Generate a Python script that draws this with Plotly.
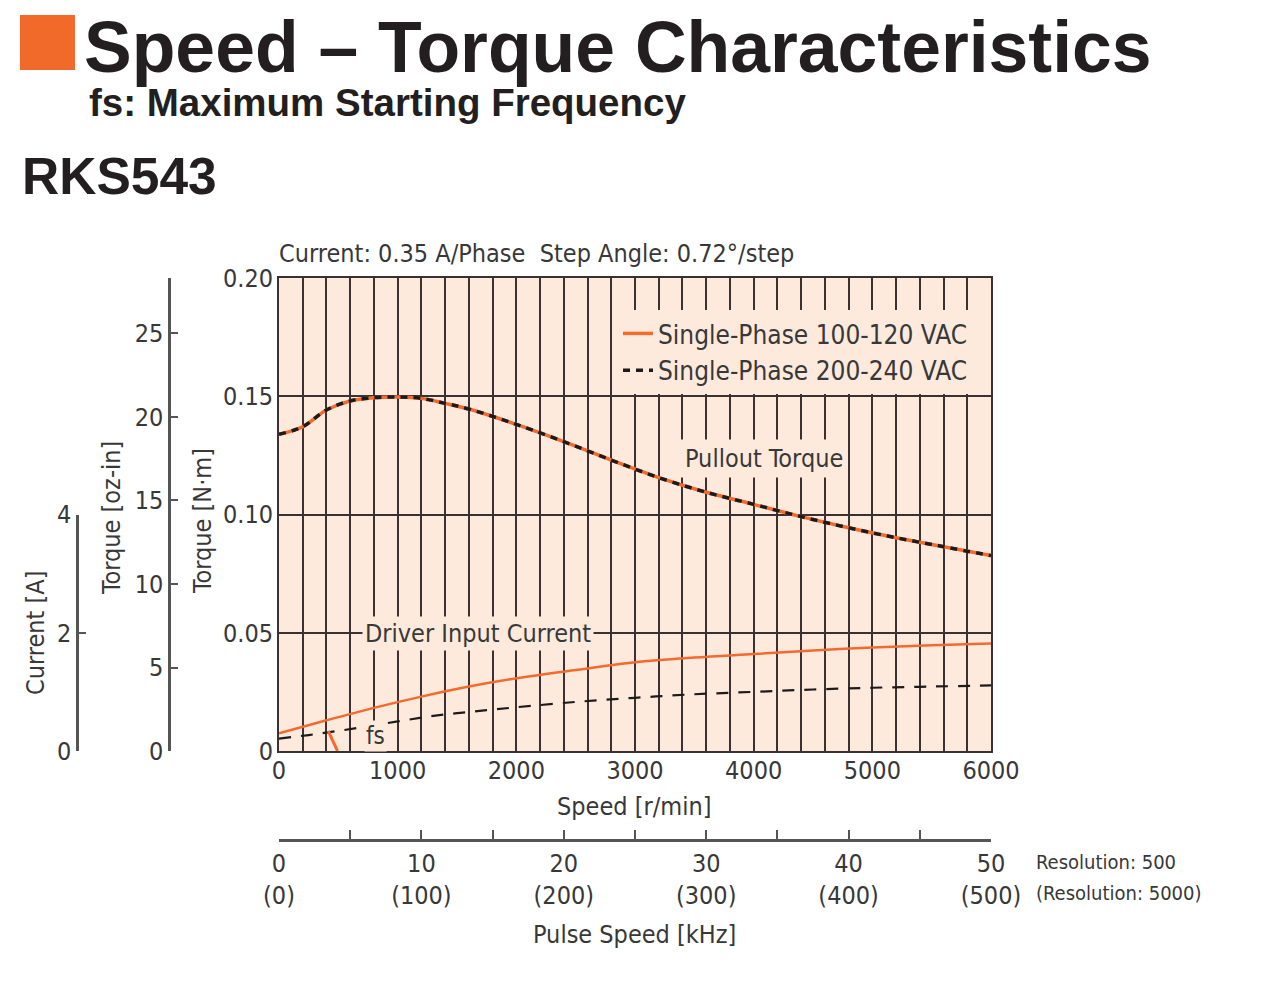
import plotly.graph_objects as go

W, H = 1280, 1002
OFF = 8  # page body margin offset

# ---------------- data ----------------
pullout_speed = [0, 200, 400, 600, 800, 1000, 1200, 1400, 1600, 2000, 2400, 2800,
                 3200, 3600, 4000, 4400, 4800, 5200, 5600, 6000]
pullout_torque_100 = [0.1339, 0.1371, 0.1442, 0.1480, 0.1494, 0.1497, 0.1491, 0.1470,
                      0.1446, 0.1381, 0.1308, 0.1230, 0.1156, 0.1094, 0.1043, 0.0991,
                      0.0944, 0.0902, 0.0864, 0.0826]
pullout_torque_200 = [0.1339, 0.1371, 0.1442, 0.1480, 0.1494, 0.1497, 0.1491, 0.1470,
                      0.1446, 0.1381, 0.1308, 0.1230, 0.1156, 0.1094, 0.1043, 0.0991,
                      0.0944, 0.0902, 0.0864, 0.0826]

current_speed_100 = [0, 400, 800, 1200, 1600, 2000, 2500, 3000, 3500, 4000, 4500, 5000, 5500, 6000]
current_100 = [0.30, 0.52, 0.73, 0.92, 1.09, 1.23, 1.37, 1.50, 1.58, 1.64, 1.70, 1.75, 1.79, 1.82]

current_speed_200 = [0, 250, 500, 750, 1000, 1250, 1500, 1750, 2000, 2500, 3000, 3500,
                     4000, 4500, 5000, 5500, 6000]
current_200 = [0.21, 0.27, 0.34, 0.42, 0.50, 0.58, 0.64, 0.69, 0.74, 0.83, 0.90, 0.96,
               1.00, 1.04, 1.07, 1.09, 1.11]

fs_speed = [415, 493]
fs_current = [0.34, 0.0]

series_names = ["Single-Phase 100-120 VAC", "Single-Phase 200-240 VAC"]

speed_ticks = [0, 1000, 2000, 3000, 4000, 5000, 6000]
torque_nm_ticks = [0, 0.05, 0.10, 0.15, 0.20]
torque_nm_labels = ["0", "0.05", "0.10", "0.15", "0.20"]
torque_ozin_ticks = [0, 5, 10, 15, 20, 25]
current_ticks = [0, 2, 4]
pulse_ticks = [0, 5, 10, 15, 20, 25, 30, 35, 40, 45, 50]
pulse_labels_500 = ["0", "", "10", "", "20", "", "30", "", "40", "", "50"]
pulse_labels_5000 = ["(0)", "", "(100)", "", "(200)", "", "(300)", "", "(400)", "", "(500)"]

NM_PER_OZIN = 0.00706155
NM_PER_A = 0.025  # 4 A spans 0.10 N·m on the chart

# ---------------- styles ----------------
ORANGE = "#F26A2E"
SQUARE = "#F26A2A"
BLACK = "#1f1a1a"
GRID = "#3a3232"
AXIS = "#555555"
TXT = "#383838"
BG = "#FDEADD"
NARROW = "DejaVu Sans Condensed, Liberation Sans Narrow, sans-serif"
BOLD = "Liberation Sans, Arial, sans-serif"
FS = 25


def px(x):
    return (x - OFF) / W


def py(y):
    return 1 - (y - OFF) / H


fig = go.Figure()

# pullout torque
fig.add_trace(go.Scatter(x=pullout_speed, y=pullout_torque_100, name=series_names[0],
                         mode="lines", line=dict(color=ORANGE, width=3.5, shape="spline"),
                         xaxis="x", yaxis="y", hoverinfo="skip"))
fig.add_trace(go.Scatter(x=pullout_speed, y=pullout_torque_200, name=series_names[1],
                         mode="lines", line=dict(color=BLACK, width=3.5, shape="spline", dash="7px,6px"),
                         xaxis="x", yaxis="y", hoverinfo="skip"))

# driver input current
fig.add_trace(go.Scatter(x=current_speed_100, y=current_100, name=series_names[0],
                         mode="lines", line=dict(color=ORANGE, width=2.5, shape="spline"),
                         xaxis="x3", yaxis="y3", showlegend=False, hoverinfo="skip"))
fig.add_trace(go.Scatter(x=current_speed_200, y=current_200, name=series_names[1],
                         mode="lines", line=dict(color=BLACK, width=2.2, shape="spline", dash="12px,10px"),
                         xaxis="x3", yaxis="y3", showlegend=False, hoverinfo="skip"))
# fs marker
fig.add_trace(go.Scatter(x=fs_speed, y=fs_current, mode="lines",
                         line=dict(color=ORANGE, width=3), xaxis="x3", yaxis="y3",
                         showlegend=False, hoverinfo="skip"))

# dummy traces so secondary axes are drawn
fig.add_trace(go.Scatter(x=[pulse_ticks[0], pulse_ticks[-1]], y=[None, None], xaxis="x2", yaxis="y",
                         showlegend=False, hoverinfo="skip", mode="lines"))
fig.add_trace(go.Scatter(x=[None], y=[None], xaxis="x", yaxis="y2",
                         showlegend=False, hoverinfo="skip", mode="lines"))

tickfont = dict(family=NARROW, size=FS, color=TXT)
xdom = [px(279), px(991)]
ydom = [py(751), py(278)]

fig.update_layout(
    width=W, height=H,
    margin=dict(l=0, r=0, t=0, b=0, pad=0, autoexpand=False),
    paper_bgcolor="white",
    plot_bgcolor="rgba(0,0,0,0)",
    font=dict(family=NARROW, color=TXT),
    xaxis=dict(domain=xdom, range=[0, 6000], anchor="y", tickvals=speed_ticks,
               ticktext=[str(v) for v in speed_ticks], tickfont=tickfont,
               showgrid=True, gridcolor=GRID, gridwidth=1.6,
               minor=dict(dtick=200, tick0=0, showgrid=True, gridcolor=GRID, gridwidth=1.6),
               showline=True, linecolor=GRID, linewidth=2, mirror=True, ticks="", ticklen=0,
               zeroline=False, ticklabelstandoff=-4, automargin=False),
    yaxis=dict(domain=ydom, range=[0, 0.2], anchor="x", tickvals=torque_nm_ticks,
               ticktext=torque_nm_labels, tickfont=tickfont,
               showgrid=True, gridcolor=GRID, gridwidth=1.6,
               showline=True, linecolor=GRID, linewidth=2, mirror=True, ticks="",
               zeroline=False, ticklabelstandoff=-1, automargin=False),
    yaxis2=dict(overlaying="y", anchor="free", position=px(169), side="left",
                range=[0, 0.2 / NM_PER_OZIN], tickvals=torque_ozin_ticks,
                ticktext=[str(v) for v in torque_ozin_ticks], tickfont=tickfont,
                ticks="inside", ticklen=7, tickwidth=2, tickcolor=AXIS, automargin=False,
                showline=True, linecolor=AXIS, linewidth=2.5, showgrid=False, zeroline=False),
    xaxis3=dict(domain=xdom, range=[0, 6000], anchor="y3", visible=False,
                showgrid=False, zeroline=False),
    yaxis3=dict(domain=[ydom[0], ydom[0] + (ydom[1] - ydom[0]) * (current_ticks[-1] * NM_PER_A / 0.2)],
                anchor="free", position=px(77), range=[0, current_ticks[-1]],
                tickvals=current_ticks, ticktext=[str(v) for v in current_ticks], tickfont=tickfont,
                ticks="inside", ticklen=7, tickwidth=2, tickcolor=AXIS, automargin=False,
                showline=True, linecolor=AXIS, linewidth=2.5, showgrid=False, zeroline=False),
    xaxis2=dict(overlaying="x", anchor="free", position=py(840), side="bottom",
                range=[0, 50], tickvals=pulse_ticks,
                ticktext=[a + "<br>" + b if a else "" for a, b in zip(pulse_labels_500, pulse_labels_5000)],
                tickfont=tickfont, ticks="inside", ticklen=9, tickwidth=2, tickcolor=AXIS,
                automargin=False,
                showline=True, linecolor=AXIS, linewidth=2.5, showgrid=False, zeroline=False),
    legend=dict(x=px(618), y=py(310), xanchor="left", yanchor="top",
                bgcolor=BG, borderwidth=0, font=dict(family=NARROW, size=26, color=TXT),
                itemwidth=30, tracegroupgap=0),
    showlegend=True,
)

# plot background (below gridlines)
fig.add_shape(type="rect", xref="paper", yref="paper", x0=xdom[0], x1=xdom[1], y0=ydom[0], y1=ydom[1],
              fillcolor=BG, line=dict(width=0), layer="below")

# header square
fig.add_shape(type="rect", xref="paper", yref="paper", x0=px(20), x1=px(75), y0=py(70), y1=py(15),
              fillcolor=SQUARE, line=dict(width=0))


def ann(text, x, y, size, xanchor="center", family=NARROW, color=TXT, bold=False, bg=None, angle=0, pad=1):
    fig.add_annotation(text=text, x=px(x), y=py(y), xref="paper", yref="paper",
                       xanchor=xanchor, yanchor="middle", showarrow=False, textangle=angle,
                       font=dict(family=family, size=size, color=color, weight=700 if bold else 400),
                       bgcolor=bg, borderpad=pad)


ann("Speed – Torque Characteristics", 83, 47, 71.5, "left", BOLD, "#231f20", True, pad=0)
ann("fs: Maximum Starting Frequency", 87, 102, 38.5, "left", BOLD, "#231f20", True)
ann("RKS543", 20, 176, 51.5, "left", BOLD, "#231f20", True)

ann("Current: 0.35 A/Phase  Step Angle: 0.72°/step", 277, 253, FS, "left")
ann("Torque [N·m]", 202, 521, FS, angle=-90)
ann("Torque [oz-in]", 111, 518, FS, angle=-90)
ann("Current [A]", 35, 633, FS, angle=-90)
ann("Speed [r/min]", 634, 806, FS)
ann("Pulse Speed [kHz]", 634, 934, FS)
ann("Resolution: 500", 1034, 862, 20, "left")
ann("(Resolution: 5000)", 1034, 893, 20, "left")

ann("Pullout Torque", 764, 458, FS, bg=BG, pad=4)
ann("Driver Input Current", 478, 633, FS, bg=BG, pad=2)
ann("fs", 375, 736, 24, bg=BG, pad=1)

fig.write_html("out.html")
